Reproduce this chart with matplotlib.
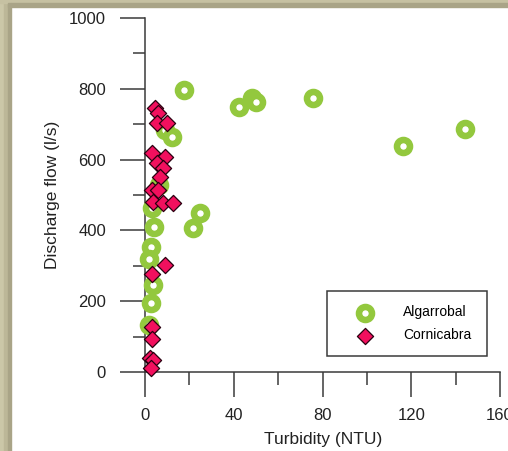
import matplotlib
matplotlib.use("Agg")
import matplotlib.pyplot as plt
from matplotlib.patches import Rectangle

# ---- data ----
turb_alg = [17.5, 42.5, 48, 50, 75.5, 116.5, 144, 9, 12.2, 6.5, 3.2, 4.0, 25, 21.5, 2.5, 1.8, 3.8, 2.8, 2.0]
flow_alg = [797, 749, 775, 762, 775, 638, 687, 684, 664, 528, 463, 410, 450, 408, 352, 320, 246, 195, 133]

turb_cor = [4.5, 6, 5.3, 9.8, 3.1, 9, 5.4, 8.3, 6.8, 3.3, 6, 3.8, 8.3, 12.8, 9, 3.3, 3, 3, 2.3, 3.5, 2.8]
flow_cor = [746, 731, 703, 703, 618, 607, 590, 576, 551, 514, 514, 480, 477, 477, 302, 277, 127, 92, 40, 34, 12]

x_major = [0, 40, 80, 120, 160]
x_minor = [20, 60, 100, 140]
y_major = [0, 200, 400, 600, 800, 1000]
y_minor = [100, 300, 500, 700, 900]

labels = ["Algarrobal", "Cornicabra"]
xlabel = "Turbidity (NTU)"
ylabel = "Discharge flow (l/s)"

GREEN = "#93C83E"
PINK = "#F2105E"
AXC = "#3a3a3a"

plt.rcParams['font.family'] = ['Liberation Sans', 'DejaVu Sans']

fig = plt.figure(figsize=(5.08, 4.51), dpi=100, facecolor="white")
W, H = 508, 451

# decorative frame
def frect(x0, y0, w, h, c):
    fig.patches.append(Rectangle((x0 / W, 1 - (y0 + h) / H), w / W, h / H,
                                 transform=fig.transFigure, color=c, zorder=0))
frect(0, 0, 4, H, "#CBC7A8")
frect(4, 0, 4, H, "#BCB798")
frect(8, 0, 3, H, "#A9A487")
frect(0, 0, W, 3, "#C6C1A2")
frect(11, 3, W, 4, "#A9A487")
frect(8, 3, 3, 4, "#A9A487")

ax = fig.add_axes([145 / W, 1 - 372 / H, 355 / W, 354 / H])
ax.set_facecolor("none")

ax.scatter(turb_alg, flow_alg, s=88, facecolors="white", edgecolors=GREEN,
           linewidths=4.7, zorder=3, clip_on=False, label=labels[0])
ax.scatter(turb_cor, flow_cor, s=68, marker="D", facecolors=PINK,
           edgecolors="#2a0010", linewidths=0.9, zorder=4, clip_on=False,
           label=labels[1])

ax.set_xlim(0, 160)
ax.set_ylim(0, 1000)
for s in ["top", "right"]:
    ax.spines[s].set_visible(False)
for s in ["left", "bottom"]:
    ax.spines[s].set_color(AXC)
    ax.spines[s].set_linewidth(1.1)

ax.set_xticks(x_major)
ax.set_xticks(x_minor, minor=True)
ax.set_yticks(y_major)
ax.set_yticks(y_minor, minor=True)
ax.tick_params(which="major", length=18, width=1.1, color=AXC, labelsize=12,
               labelcolor="#222222")
ax.tick_params(which="minor", length=9, width=1.1, color=AXC)
ax.tick_params(axis="x", which="major", pad=8)
ax.tick_params(axis="y", which="major", pad=10)

ax.set_xlabel(xlabel, fontsize=12.5, color="#222222")
ax.set_ylabel(ylabel, fontsize=12.5, color="#222222")
ax.xaxis.set_label_coords(0.501, -0.169)
ax.yaxis.set_label_coords(-0.24, 0.5)

leg = ax.legend(loc="lower left", bbox_to_anchor=(0.513, 0.045, 0.45, 0.184),
                mode="expand", fontsize=10, frameon=True, fancybox=False,
                borderpad=1.0, handlelength=3.5, handletextpad=0.97,
                labelspacing=0.65, borderaxespad=0)
leg.get_frame().set_edgecolor(AXC)
leg.get_frame().set_linewidth(1.1)
leg.get_frame().set_facecolor("white")
leg.get_frame().set_alpha(1)

fig.savefig("out.png", dpi=100, facecolor=fig.get_facecolor())
